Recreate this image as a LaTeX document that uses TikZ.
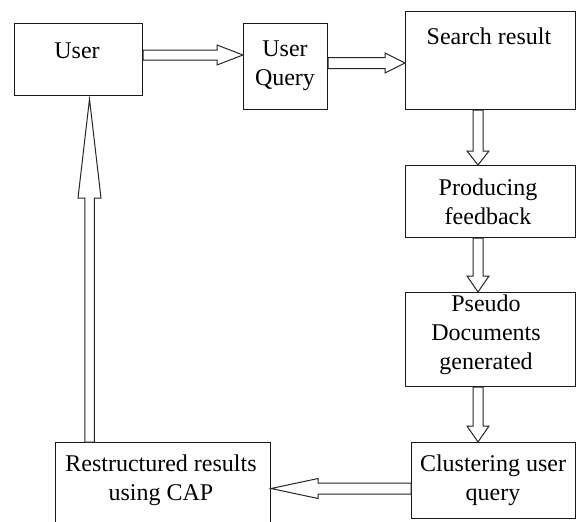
\documentclass[tikz,border=0pt]{standalone}
\usepackage{fontspec}
\setmainfont{Liberation Serif}
\newfontfamily\tnrfont{Liberation Serif}
\usetikzlibrary{calc}
\tikzset{
  box/.style={draw=black!90, line width=1.1pt, inner sep=0pt, anchor=north west},
  lbl/.style={inner sep=0pt, align=center, anchor=base, font=\tnrfont\fontsize{24}{29}\selectfont},
  barrowline/.style={draw=black!85, line width=1pt, fill=white, line join=miter},
}
\newcommand\blockarrow[5]{%
  \coordinate (bah) at ($(#2)!#5!(#1)$);
  \draw[barrowline] ($(#1)!#3!90:(#2)$) -- ($(bah)!#3!90:(#2)$) -- ($(bah)!#4!90:(#2)$) -- (#2)
    -- ($(bah)!#4!-90:(#2)$) -- ($(bah)!#3!-90:(#2)$) -- ($(#1)!#3!-90:(#2)$) -- cycle;}
\begin{document}
\begin{tikzpicture}[x=1pt,y=-1pt]
\useasboundingbox (0,0) rectangle (576,522);
\clip (0,0) rectangle (576,522);
% boxes
\node[box, minimum width=128pt, minimum height=72pt] (user) at (14,23) {};
\node[box, minimum width=84pt, minimum height=86pt] (query) at (243,23) {};
\node[box, minimum width=170pt, minimum height=98pt] (search) at (405,11) {};
\node[box, minimum width=170pt, minimum height=72pt] (prod) at (405,165) {};
\node[box, minimum width=170pt, minimum height=94pt] (pseudo) at (405,292) {};
\node[box, minimum width=164pt, minimum height=76pt] (clust) at (411,442) {};
\node[box, minimum width=215pt, minimum height=92pt] (restr) at (55,442) {};
% labels (base = baseline of the last line)
\node[lbl] (tuser) at (77,58) {User};
\node[lbl] (tquery) at (285,85) {User\\Query};
\node[lbl] (tsearch) at (489,45) {Search result};
\node[lbl] (tprod) at (488,224) {Producing\\feedback};
\node[lbl] (tpseudo) at (486,369) {Pseudo\\Documents\\generated};
\node[lbl] (tclust) at (493,500) {Clustering user\\query};
\node[lbl] (trestr) at (161,500) {Restructured results\\using CAP};
% connectors
\coordinate (a1s) at ($(user.north east)+(0,32)$);
\coordinate (a1e) at (query.west |- a1s);
\blockarrow{a1s}{a1e}{5pt}{10pt}{26pt}
\coordinate (a2s) at ($(query.north east)+(0,40)$);
\coordinate (a2e) at (search.west |- a2s);
\blockarrow{a2s}{a2e}{5.5pt}{10pt}{20pt}
\coordinate (a3s) at ($(search.south west)+(73,0)$);
\coordinate (a3e) at (a3s |- prod.north);
\blockarrow{a3s}{a3e}{5pt}{11pt}{14pt}
\coordinate (a4s) at ($(prod.south west)+(73,0)$);
\coordinate (a4e) at (a4s |- pseudo.north);
\blockarrow{a4s}{a4e}{5pt}{11pt}{16pt}
\coordinate (a5s) at ($(pseudo.south west)+(73,0)$);
\coordinate (a5e) at (a5s |- clust.north);
\blockarrow{a5s}{a5e}{5pt}{11pt}{16pt}
\coordinate (a6s) at ($(clust.north west)+(0,46.5)$);
\coordinate (a6e) at (restr.east |- a6s);
\blockarrow{a6s}{a6e}{5.5pt}{10pt}{47pt}
\coordinate (a7s) at ($(restr.north west)+(34.5,0)$);
\coordinate (a7e) at ($(a7s |- user.south)+(0,3)$);
\blockarrow{a7s}{a7e}{4.75pt}{11.5pt}{99pt}
\end{tikzpicture}
\end{document}
